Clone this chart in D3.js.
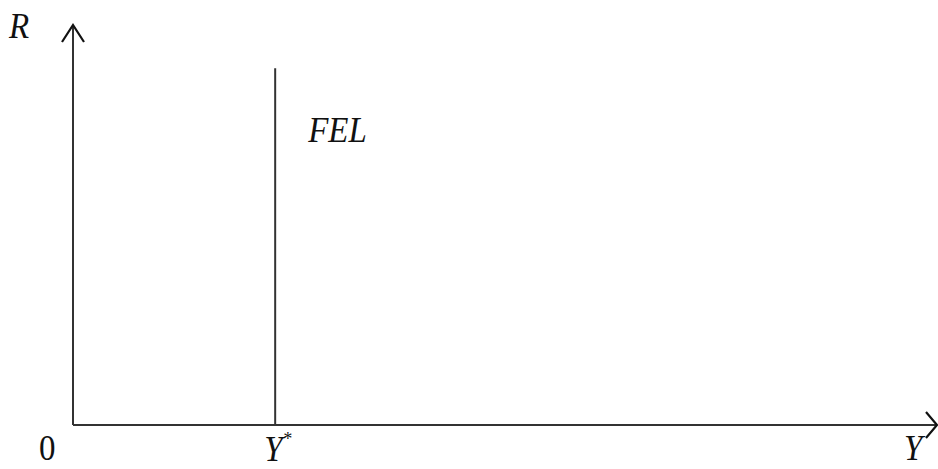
<!DOCTYPE html>
<html>
<head>
<meta charset="utf-8">
<script src="https://cdn.jsdelivr.net/npm/d3@7/dist/d3.min.js"></script>
<style>
  html, body { margin: 0; padding: 0; background: #fff; }
  svg { display: block; }
</style>
</head>
<body>
<svg id="chart" width="938" height="469"></svg>
<script>
// Axis extents (abstract units) and the full-employment level
const xDomain = [0, 100];
const yDomain = [0, 100];
const fullEmploymentY = [23.4];      // Y* position on the output axis
const felTop = [89.2];               // how far up the FEL line reaches
const felLabel = ["FEL"];
const xTickLabels = [{ v: 0, t: "0" }, { v: 23.4, t: "Y", sup: "*" }, { v: 100, t: "Y" }];
const yAxisLabel = ["R"];

const serif = "'Liberation Serif', 'Times New Roman', serif";
const stretch = 1.1;   // labels are set slightly tall

const svg = d3.select("#chart");
const x = d3.scaleLinear().domain(xDomain).range([73, 937]);
const y = d3.scaleLinear().domain(yDomain).range([425, 25]);

const ink = "#333";

// Axes
svg.append("line")
  .attr("x1", x(0)).attr("y1", y(0)).attr("x2", x(0)).attr("y2", y(100))
  .attr("stroke", ink).attr("stroke-width", 2);
svg.append("line")
  .attr("x1", x(0)).attr("y1", y(0)).attr("x2", x(100)).attr("y2", y(0))
  .attr("stroke", ink).attr("stroke-width", 2);

// Open arrowheads
svg.append("path")
  .attr("d", `M${x(0) - 11},${y(100) + 17} L${x(0)},${y(100)} L${x(0) + 11},${y(100) + 17}`)
  .attr("fill", "none").attr("stroke", "#111").attr("stroke-width", 2.2);
svg.append("path")
  .attr("d", `M${x(100) - 11},${y(0) - 13} L${x(100)},${y(0)} L${x(100) - 11},${y(0) + 13}`)
  .attr("fill", "none").attr("stroke", "#111").attr("stroke-width", 2.2);

// Full-employment line
svg.selectAll("line.fel").data(fullEmploymentY).join("line")
  .attr("class", "fel")
  .attr("x1", d => x(d)).attr("x2", d => x(d))
  .attr("y1", y(0)).attr("y2", y(felTop[0]))
  .attr("stroke", ink).attr("stroke-width", 2);

// Places a label with its baseline at (px, py), stretched vertically
function label(px, py, size, italic) {
  return svg.append("text")
    .attr("transform", `translate(${px},${py}) scale(1,${stretch})`)
    .attr("font-family", serif).attr("fill", "#111")
    .attr("font-size", size)
    .attr("font-style", italic ? "italic" : "normal");
}

label(x(fullEmploymentY[0]) + 33, 142, 33, true).text(felLabel[0]);

// Axis labels
label(9, 38, 33, true).text(yAxisLabel[0]);

xTickLabels.forEach(d => {
  const px = d.v === 0 ? 39 : (d.v === 100 ? 904 : x(d.v) - 11);
  const py = d.sup ? 461 : 460;
  const t = label(px, py, 33, d.v !== 0).text(d.t);
  if (d.sup) t.append("tspan").attr("font-size", 18).attr("dy", -15).text(d.sup);
});
</script>
</body>
</html>
